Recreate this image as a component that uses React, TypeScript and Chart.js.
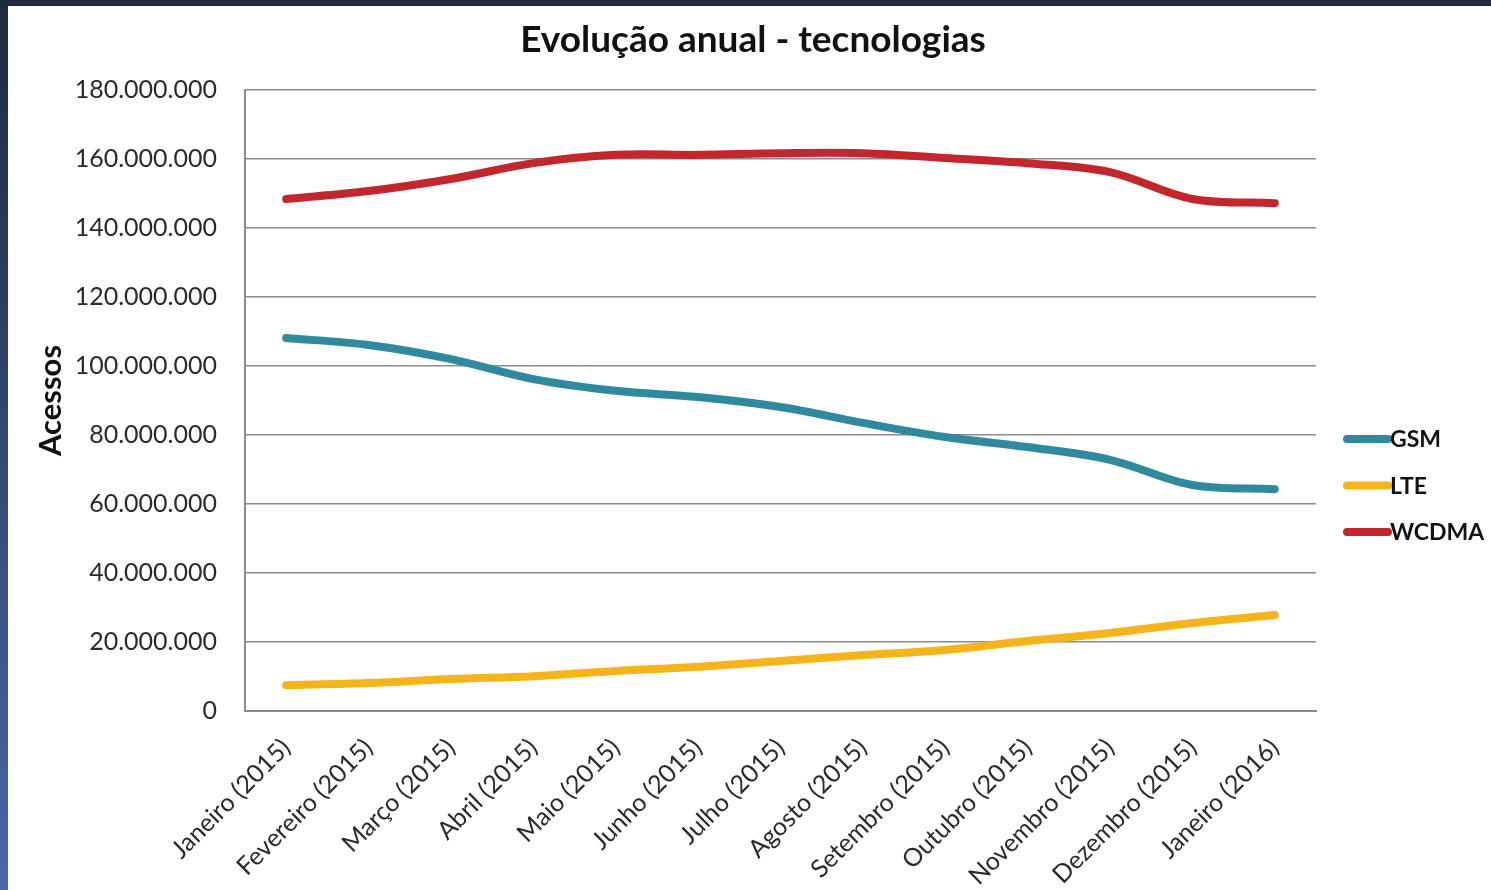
import React, { useEffect, useRef } from "react";
import { Chart, registerables } from "chart.js";

Chart.register(...registerables);

const categories = [
  "Janeiro (2015)", "Fevereiro (2015)", "Março (2015)", "Abril (2015)", "Maio (2015)",
  "Junho (2015)", "Julho (2015)", "Agosto (2015)", "Setembro (2015)", "Outubro (2015)",
  "Novembro (2015)", "Dezembro (2015)", "Janeiro (2016)",
];

const gsm = [108.1, 106.1, 102.0, 96.2, 92.8, 91.0, 88.1, 83.5, 79.4, 76.5, 72.8, 65.5, 64.3].map((v) => v * 1e6);
const lte = [7.5, 8.1, 9.3, 10.1, 11.6, 12.8, 14.5, 16.2, 17.7, 20.3, 22.6, 25.5, 27.8].map((v) => v * 1e6);
const wcdma = [148.4, 150.7, 154.2, 158.8, 161.2, 161.2, 161.7, 161.7, 160.3, 158.8, 156.2, 148.4, 147.2].map((v) => v * 1e6);

const seriesNames = ["GSM", "LTE", "WCDMA"];
const seriesColors = ["#2f8a9d", "#f5b41c", "#c1272d"];

const chartTitle = "Evolução anual - tecnologias";
const yAxisTitle = "Acessos";

const yMin = 0;
const yMax = 180000000;
const yStep = 20000000;

const FONT = "Lato, 'Open Sans', sans-serif";

const fmt = (v: number) => Math.round(v).toString().replace(/\B(?=(\d{3})+(?!\d))/g, ".");

const titleAndLegendPlugin = {
  id: "titleAndLegend",
  afterDraw(chart: any) {
    const ctx = chart.ctx;
    const area = chart.chartArea;
    ctx.save();
    // title
    ctx.fillStyle = "#111";
    ctx.font = `bold 37px ${FONT}`;
    ctx.textAlign = "center";
    ctx.textBaseline = "middle";
    ctx.fillText(chartTitle, 753, 40);
    // legend
    const x0 = area.right + 27;
    const lineW = 47;
    const yStart = area.top + 349;
    const gap = 46.5;
    chart.data.datasets.forEach((ds: any, i: number) => {
      const y = yStart + i * gap;
      ctx.strokeStyle = ds.borderColor;
      ctx.lineWidth = 8;
      ctx.lineCap = "round";
      ctx.beginPath();
      ctx.moveTo(x0 + 4, y);
      ctx.lineTo(x0 + lineW - 2, y);
      ctx.stroke();
      ctx.fillStyle = "#111";
      ctx.font = `bold 23px ${FONT}`;
      ctx.textBaseline = "middle";
      ctx.textAlign = "left";
      ctx.fillText(ds.label, x0 + lineW, y + 1);
    });
    ctx.restore();
  },
};

export default function App() {
  const ref = useRef<HTMLCanvasElement | null>(null);

  useEffect(() => {
    if (!ref.current) return;
    const data = [gsm, lte, wcdma];
    const chart = new Chart(ref.current, {
      type: "line",
      data: {
        labels: categories,
        datasets: seriesNames.map((name, i) => ({
          label: name,
          data: data[i],
          borderColor: seriesColors[i],
          backgroundColor: seriesColors[i],
          borderWidth: 8,
          borderCapStyle: "round" as const,
          borderJoinStyle: "round" as const,
          pointRadius: 0,
          pointHoverRadius: 0,
          tension: 0.35,
          fill: false,
        })),
      },
      options: {
        animation: false,
        responsive: false,
        maintainAspectRatio: false,
        layout: { padding: { left: 0, right: 175, top: 90, bottom: 0 } },
        plugins: {
          legend: { display: false },
          tooltip: { enabled: false },
          title: { display: false },
        },
        scales: {
          x: {
            type: "category",
            offset: true,
            grid: { display: false, drawTicks: false },
            border: { display: true, color: "#8c8c8c", width: 2 },
            ticks: {
              autoSkip: false,
              minRotation: 45,
              maxRotation: 45,
              padding: 22,
              color: "#2a2a2a",
              font: { family: FONT, size: 25 },
            },
            afterFit: (scale: any) => {
              scale.height = 179;
            },
          },
          y: {
            min: yMin,
            max: yMax,
            grid: { color: "#8c8c8c", lineWidth: 1.5, drawTicks: false },
            border: { display: true, color: "#8c8c8c", width: 2 },
            ticks: {
              stepSize: yStep,
              padding: 28,
              color: "#2a2a2a",
              font: { family: FONT, size: 25 },
              callback: (v: any) => fmt(Number(v)),
            },
            title: {
              display: true,
              text: yAxisTitle,
              color: "#111",
              font: { family: FONT, size: 31, weight: "bold", lineHeight: 1.2 },
              padding: { top: 32, bottom: 0 },
            },
            afterFit: (scale: any) => {
              scale.width = 245;
            },
          },
        },
      },
      plugins: [titleAndLegendPlugin],
    });
    return () => chart.destroy();
  }, []);

  return (
    <div
      style={{
        position: "fixed",
        left: 0,
        top: 0,
        width: 1491,
        height: 890,
        background: "#ffffff",
        overflow: "hidden",
      }}
    >
      <div
        style={{
          position: "absolute",
          left: 0,
          top: 0,
          width: 8,
          height: 890,
          background: "linear-gradient(to bottom, #1e2a3e 0%, #2f4266 40%, #4a68a8 100%)",
        }}
      />
      <div
        style={{
          position: "absolute",
          left: 0,
          top: 0,
          width: 1491,
          height: 6,
          background: "#1f2a3d",
        }}
      />
      <canvas ref={ref} width={1491} height={890} style={{ position: "absolute", left: 0, top: 0 }} />
    </div>
  );
}
